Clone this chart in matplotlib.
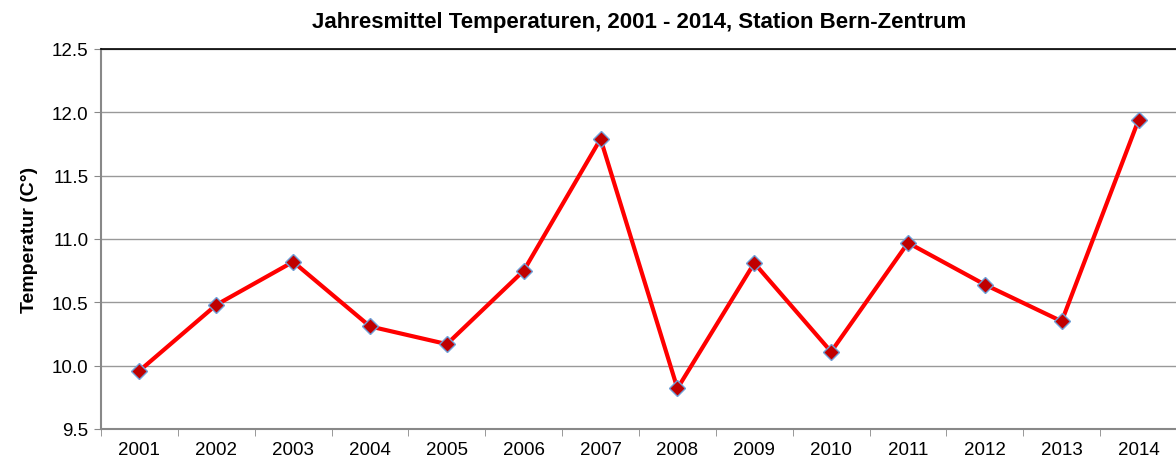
import numpy as np
import matplotlib.pyplot as plt

plt.rcParams['font.family'] = ['Liberation Sans', 'DejaVu Sans']

# Jahresmittel der Temperatur (°C), Station Bern-Zentrum
years = ['2001', '2002', '2003', '2004', '2005', '2006', '2007',
         '2008', '2009', '2010', '2011', '2012', '2013', '2014']
temps = [9.96, 10.48, 10.82, 10.31, 10.17, 10.75, 11.79,
         9.82, 10.81, 10.11, 10.97, 10.64, 10.35, 11.94]

fig = plt.figure(figsize=(11.76, 4.64), dpi=100)
ax = fig.add_axes([101 / 1176, 1 - 430 / 464, 1076 / 1176, 380 / 464])

x = np.arange(len(years))
ax.plot(x, temps, color='#ff0000', lw=3, zorder=3)
ax.plot(x, temps, ls='none', marker='D', ms=8, mfc='#c00000',
        mec='#6f9fd8', mew=1, zorder=4)

ax.set_xlim(-0.5, len(years) - 0.5)
ax.set_ylim(9.5, 12.5)
ticks = np.arange(9.5, 12.51, 0.5)
ax.set_yticks(ticks)
ax.set_yticklabels([f'{v:.1f}' for v in ticks])
ax.set_xticks(x)
ax.set_xticklabels(years)
ax.set_xticks(np.arange(-0.5, len(years) + 0.5, 1), minor=True)
ax.tick_params(axis='x', which='major', length=0, pad=9, labelsize=13.5)
ax.tick_params(axis='x', which='minor', length=5, color='#888888')
ax.tick_params(axis='y', length=5, color='#888888', labelsize=13.5, pad=4)

ax.grid(axis='y', color='#999999', lw=1)
ax.set_axisbelow(True)
ax.spines['right'].set_visible(False)
ax.spines['top'].set_color('black')
ax.spines['top'].set_linewidth(1.2)
ax.spines['left'].set_color('#888888')
ax.spines['bottom'].set_color('#888888')
ax.spines['left'].set_linewidth(1.5)
ax.spines['bottom'].set_linewidth(1.5)

ax.set_title('Jahresmittel Temperaturen, 2001 - 2014, Station Bern-Zentrum',
             fontsize=16, fontweight='bold', pad=16)
ax.set_ylabel('Temperatur (C°)', fontsize=14, fontweight='bold', labelpad=10)

fig.savefig('out.png', dpi=100)
